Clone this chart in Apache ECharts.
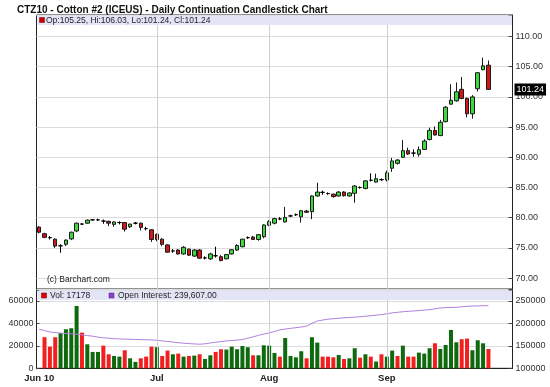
<!DOCTYPE html>
<html><head><meta charset="utf-8">
<script src="https://cdn.jsdelivr.net/npm/echarts@6/dist/echarts.min.js"></script>
<style>html,body{margin:0;padding:0;background:#fff}#c{width:550px;height:387px}</style>
</head><body><div id="c"></div>
<script>
// ---------- DATA ----------
const dates = [
 '2010-06-01','2010-06-02','2010-06-03','2010-06-04','2010-06-07','2010-06-08','2010-06-09','2010-06-10','2010-06-11','2010-06-14','2010-06-15','2010-06-16','2010-06-17','2010-06-18','2010-06-21','2010-06-22','2010-06-23','2010-06-24','2010-06-25','2010-06-28','2010-06-29','2010-06-30',
 '2010-07-01','2010-07-02','2010-07-06','2010-07-07','2010-07-08','2010-07-09','2010-07-12','2010-07-13','2010-07-14','2010-07-15','2010-07-16','2010-07-19','2010-07-20','2010-07-21','2010-07-22','2010-07-23','2010-07-26','2010-07-27','2010-07-28','2010-07-29','2010-07-30',
 '2010-08-02','2010-08-03','2010-08-04','2010-08-05','2010-08-06','2010-08-09','2010-08-10','2010-08-11','2010-08-12','2010-08-13','2010-08-16','2010-08-17','2010-08-18','2010-08-19','2010-08-20','2010-08-23','2010-08-24','2010-08-25','2010-08-26','2010-08-27','2010-08-30','2010-08-31',
 '2010-09-01','2010-09-02','2010-09-03','2010-09-07','2010-09-08','2010-09-09','2010-09-10','2010-09-13','2010-09-14','2010-09-15','2010-09-16','2010-09-17','2010-09-20','2010-09-21','2010-09-22','2010-09-23','2010-09-24','2010-09-27','2010-09-28','2010-09-29'
];
const opens = [
 78.45,77.35,76.7,76.45,75.35,75.6,76.5,77.8,78.95,79.1,79.65,79.65,79.45,79.4,78.9,79.2,79.2,78.5,79.1,79.1,78.2,78.0,
 77.25,76.45,75.5,74.5,74.65,74.0,74.8,73.65,74.65,73.35,73.2,73.7,73.55,73.2,74.0,74.65,75.2,76.7,76.8,76.4,76.85,
 78.75,79.1,79.8,79.3,80.3,80.5,80.15,81.1,81.0,83.6,84.2,84.0,83.9,83.6,84.25,83.6,84.05,85.0,84.85,86.2,85.9,86.3,
 86.25,88.2,89.0,90.0,91.1,90.7,90.5,91.3,92.95,94.45,93.6,95.9,98.8,99.35,101.25,99.75,97.2,101.35,104.5,105.25
];
const closes = [
 77.6,76.75,76.7,75.3,75.35,76.3,77.6,79.1,78.95,79.6,79.65,79.65,79.45,79.1,79.3,79.2,78.1,78.95,79.1,78.4,78.2,76.4,
 76.4,75.6,74.3,74.5,74.0,75.1,73.8,74.65,73.3,73.35,74.0,73.7,72.9,73.9,74.7,75.4,76.45,76.7,76.4,77.2,78.8,
 79.35,79.85,79.8,80.05,80.3,80.5,81.15,80.9,83.6,84.25,84.2,84.0,83.5,84.25,83.65,84.1,85.25,85.0,86.1,86.2,86.45,86.3,
 87.45,89.4,89.55,91.1,90.55,90.7,91.25,92.7,94.45,93.7,95.8,98.3,99.45,100.85,99.75,97.2,100.0,104.0,105.15,101.24
];
const lows = [
 77.4,76.6,76.4,75.0,74.2,75.3,76.3,77.6,78.8,79.0,79.5,79.45,79.0,78.6,78.5,78.9,77.7,78.3,78.9,77.9,77.9,76.0,
 76.1,75.3,74.2,74.2,73.9,73.9,73.7,73.5,73.2,73.1,73.0,73.4,72.8,73.1,73.9,74.5,75.1,76.5,76.3,76.2,76.6,
 78.6,78.9,79.6,79.2,80.1,80.3,79.2,80.8,79.75,83.5,83.8,83.8,83.3,83.5,83.5,83.5,82.5,84.8,84.7,86.0,85.8,86.1,
 86.0,87.6,88.8,89.9,90.4,90.1,90.1,91.2,92.8,93.6,93.5,95.8,98.7,99.2,99.6,96.6,96.4,100.9,104.4,101.24
];
const highs = [
 78.6,77.5,76.95,76.6,75.6,76.4,77.7,79.2,79.1,79.7,79.8,79.85,79.7,79.5,79.4,79.4,79.3,79.0,79.3,79.2,78.5,78.1,
 77.4,76.6,75.6,74.8,74.8,75.3,74.9,74.8,74.8,73.6,74.2,75.2,73.8,74.0,74.8,75.6,76.5,76.9,77.0,77.3,78.9,
 79.6,80.0,80.1,81.8,80.5,80.7,81.3,81.3,83.7,85.8,84.5,84.2,84.0,84.4,84.4,84.2,85.4,85.2,86.2,87.35,87.3,86.5,
 87.8,89.9,89.7,92.85,91.6,91.3,91.8,93.0,94.9,95.1,96.2,98.5,102.1,102.4,103.3,99.9,100.3,104.1,106.5,106.03
];
const volumes = [
 null,27700,19300,27700,31300,34800,35700,55600,31800,21400,14600,14600,20200,12500,11000,10400,16100,8900,5700,8900,10400,19300,
 18800,11000,15800,12500,13100,10400,11000,11300,12500,8300,11600,14600,17000,16700,19300,17000,19900,18800,11600,11600,20500,
 20200,13700,10400,27000,11000,9800,15200,8900,27700,22900,10400,10400,9800,11900,8300,8900,17900,9500,12500,10400,6000,12500,
 10400,15800,11000,20200,10400,10400,14000,13100,17900,22300,17300,20800,34200,23200,25900,26500,16100,25000,22300,17178
];
// volume bar direction: g = up, r = down, x = none
const volumeDir = ('x' + 'rrrggggrgggrrggrggrrr' + 'grrgrgrgrggrrgggggrgg' + 'ggrggggrggrrrgrggrgrgr' + 'ggrgrrgggrggggrrgggr').split('');
const openInterest = [
 186900,184000,181000,179500,178500,177500,176800,176000,174500,173000,171500,169500,168000,167000,166000,165500,165000,164600,164300,164000,163600,163200,
 162500,161000,159800,158500,157000,156000,155000,154300,153700,154500,156500,158000,159500,161000,162000,163000,164000,167000,170000,173500,176500,
 178700,182000,185500,187500,189000,190600,192000,194000,200000,205400,207500,209500,210500,211500,212500,213300,214000,214800,216000,217200,218500,219600,
 221500,223500,224800,226000,227000,227700,228700,229800,230700,232500,234500,235200,235600,235900,237000,238100,238700,239000,239400,239607
];
const monthLabels = {'2010-06-01':'Jun 10','2010-07-01':'Jul','2010-08-02':'Aug','2010-09-01':'Sep'};
const monthLines = ['2010-07-01','2010-08-02','2010-09-01'];
const priceTickStep = 5;
const volTickMax = 60000;
const oiTickMax = 250000;

// ---------- CHART ----------
const FONT = '"Liberation Sans", Arial, sans-serif';
const GREEN = '#3dd83d', RED = '#d01818', VGREEN = '#0f6a0f', VRED = '#f02020', OI = '#b27ee0';
const padCats = ['p1','p2','p3','p4'];
const xCats = dates.concat(padCats);
const last = dates.length - 1;

const candleData = dates.map((d, i) => {
  const v = [opens[i], closes[i], lows[i], highs[i]];
  if (opens[i] === closes[i]) return {value: v, itemStyle: {color: '#000', color0: '#000', borderColor: '#000', borderColor0: '#000'}};
  return v;
});
const volData = volumes.map((v, i) => ({value: v, itemStyle: {color: volumeDir[i] === 'g' ? VGREEN : VRED}}));

const fmt2 = v => v.toFixed(2);
const withCommas = v => v.toLocaleString('en-US', {minimumFractionDigits: 2, maximumFractionDigits: 2});
const legendMain = 'Op:' + fmt2(opens[last]) + ', Hi:' + fmt2(highs[last]) + ', Lo:' + fmt2(lows[last]) + ', Cl:' + fmt2(closes[last]);

const L = 36.5, W = 476;
const vLines = monthLines.map(d => ({xAxis: d}));

const chart = echarts.init(document.getElementById('c'), null, {renderer: 'canvas'});
chart.setOption({
  animation: false,
  textStyle: {fontFamily: FONT},
  title: {text: 'CTZ10 - Cotton #2 (ICEUS) - Daily Continuation Candlestick Chart', left: 12, top: 0,
    textStyle: {fontSize: 10, fontWeight: 'bold', color: '#111', fontFamily: FONT}},
  grid: [
    {left: L, top: 15, width: W, height: 274, show: true, borderColor: '#222', borderWidth: 1},
    {left: L, top: 290, width: W, height: 78.3, show: true, borderColor: '#222', borderWidth: 1}
  ],
  xAxis: [
    {type: 'category', gridIndex: 0, data: xCats, boundaryGap: true,
      axisLine: {show: false}, axisTick: {show: false}, axisLabel: {show: false}, splitLine: {show: false}},
    {type: 'category', gridIndex: 1, data: xCats, boundaryGap: true,
      axisLine: {show: true, lineStyle: {color: '#222'}}, axisTick: {show: false},
      axisLabel: {show: true, interval: (idx, v) => monthLabels[v] !== undefined, formatter: v => monthLabels[v] || '',
        fontSize: 9.5, fontWeight: 'bold', color: '#222', margin: 5, fontFamily: FONT},
      splitLine: {show: false}}
  ],
  yAxis: [
    {type: 'value', gridIndex: 0, position: 'right', min: 68.2, max: 113.56, splitNumber: 9, scale: true,
      axisLine: {show: true, lineStyle: {color: '#222'}},
      axisTick: {show: true, inside: true, length: 4, lineStyle: {color: '#444'}},
      axisLabel: {fontSize: 9, color: '#333', margin: 3, fontFamily: FONT,
        formatter: v => (Math.abs(v / priceTickStep - Math.round(v / priceTickStep)) < 1e-6 ? fmt2(v) : '')},
      splitLine: {show: true, lineStyle: {color: '#dcdcdc', width: 1}}},
    {type: 'value', gridIndex: 1, position: 'left', min: 0, max: 69800, interval: 20000,
      axisLine: {show: true, lineStyle: {color: '#222'}},
      axisTick: {show: true, inside: true, length: 3, lineStyle: {color: '#444'}},
      axisLabel: {fontSize: 9, color: '#333', margin: 3, fontFamily: FONT,
        formatter: v => (v <= volTickMax && v % 20000 === 0 ? String(v) : '')},
      splitLine: {show: true, lineStyle: {color: '#dcdcdc', width: 1}}},
    {type: 'value', gridIndex: 1, position: 'right', min: 100000, max: 274500, interval: 50000,
      axisLine: {show: true, lineStyle: {color: '#222'}},
      axisTick: {show: true, inside: true, length: 4, lineStyle: {color: '#444'}},
      axisLabel: {fontSize: 9, color: '#333', margin: 3, fontFamily: FONT,
        formatter: v => (v <= oiTickMax && v % 50000 === 0 ? String(v) : '')},
      splitLine: {show: false}}
  ],
  series: [
    {type: 'candlestick', xAxisIndex: 0, yAxisIndex: 0, data: candleData, barWidth: 4,
      itemStyle: {color: GREEN, color0: RED, borderColor: '#1a1a1a', borderColor0: '#1a1a1a', borderWidth: 1},
      markLine: {silent: true, symbol: ['none', 'none'], animation: false,
        data: vLines.map(o => Object.assign({}, o, {lineStyle: {color: '#cfcfcf', width: 1, type: 'solid'}, label: {show: false}}))
          .concat([{yAxis: closes[last], lineStyle: {color: 'rgba(0,0,0,0)', width: 1}, label: {show: true, position: 'end', distance: 2,
            formatter: fmt2(closes[last]), backgroundColor: '#000', color: '#fff', fontSize: 9, padding: [2, 2, 1, 2], fontFamily: FONT}}])}},
    {type: 'bar', xAxisIndex: 1, yAxisIndex: 1, data: volData, barWidth: 4,
      markLine: {silent: true, symbol: ['none', 'none'], animation: false,
        data: vLines.map(o => Object.assign({}, o, {lineStyle: {color: '#cfcfcf', width: 1, type: 'solid'}, label: {show: false}}))}},
    {type: 'line', xAxisIndex: 1, yAxisIndex: 2, data: openInterest, showSymbol: false, symbol: 'none',
      lineStyle: {color: OI, width: 1}, z: 3}
  ],
  graphic: [
    {type: 'rect', z: 100, shape: {x: 37.5, y: 15.5, width: 474.5, height: 9.5}, style: {fill: '#e4e4f7'}},
    {type: 'rect', z: 101, shape: {x: 39.5, y: 17.5, width: 5, height: 5}, style: {fill: '#cc0000', stroke: '#700', lineWidth: 0.5}},
    {type: 'text', z: 101, x: 46, y: 20.5, style: {text: legendMain, fontSize: 8.5, fill: '#222', verticalAlign: 'middle', fontFamily: FONT}},
    {type: 'rect', z: 100, shape: {x: 37.5, y: 290.5, width: 474.5, height: 9.5}, style: {fill: '#e4e4f7'}},
    {type: 'rect', z: 101, shape: {x: 41.5, y: 293, width: 5, height: 5}, style: {fill: '#dd0000', stroke: '#700', lineWidth: 0.5}},
    {type: 'text', z: 101, x: 50, y: 295.8, style: {text: 'Vol: ' + volumes[last], fontSize: 8.5, fill: '#222', verticalAlign: 'middle', fontFamily: FONT}},
    {type: 'rect', z: 101, shape: {x: 109, y: 293, width: 5, height: 5}, style: {fill: '#9040d0', stroke: '#402070', lineWidth: 0.5}},
    {type: 'text', z: 101, x: 118, y: 295.8, style: {text: 'Open Interest: ' + withCommas(openInterest[last]), fontSize: 8.5, fill: '#222', verticalAlign: 'middle', fontFamily: FONT}},
    {type: 'text', z: 101, x: 47, y: 279.5, style: {text: '(c) Barchart.com', fontSize: 8.5, fill: '#222', verticalAlign: 'middle', fontFamily: FONT}}
  ]
});
</script>
</body></html>
